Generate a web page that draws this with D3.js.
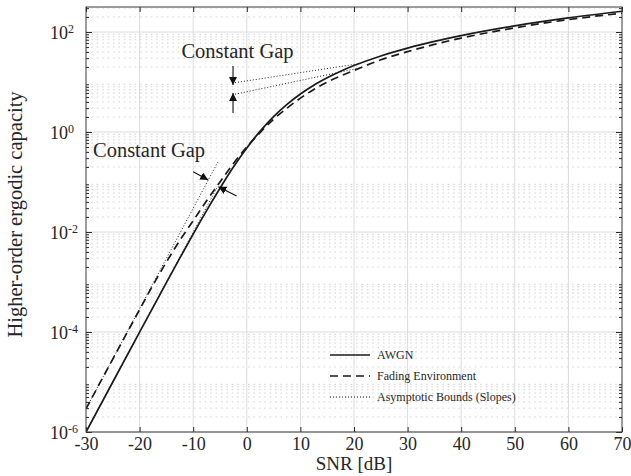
<!DOCTYPE html>
<html>
<head>
<meta charset="utf-8">
<script src="https://cdn.jsdelivr.net/npm/d3@7"></script>
<style>
  body { margin: 0; background: #fff; }
  svg { display: block; font-family: "Liberation Serif", "Times New Roman", serif; }
</style>
</head>
<body>
<svg id="chart" width="631" height="476"></svg>
<script>
// values
const snrDb = [-30, -25, -20, -17.5, -15, -12.5, -10, -7.5, -5, -2.5, 0, 2.5, 5, 7.5, 10, 12.5, 15, 17.5, 20, 25, 30, 35, 40, 50, 60, 70]
const awgn = [1.0e-6, 1.0e-5, 9.9e-5, 3.1e-4, 9.7e-4, 3.0e-3, 9.1e-3, 0.0268, 0.075, 0.199, 0.48, 1.04, 2.03, 3.57, 5.75, 8.6, 12.1, 16.4, 21.3, 33.2, 47.7, 64.9, 84.8, 132.5, 190.9, 259.8]
const fading = [2.9e-6, 2.88e-5, 2.8e-4, 8.7e-4, 2.5e-3, 6.8e-3, 0.0168, 0.042, 0.10, 0.235, 0.50, 0.98, 1.80, 3.0, 4.75, 7.1, 10.0, 13.2, 17.0, 27.8, 40.5, 56.5, 75.5, 121, 177, 238]

// asymptotic bounds (dotted)
const lowSnrDb = [-30, -5.4]
const awgnLow = [1.0e-6, 0.083]
const fadingLow = [2.9e-6, 0.25]
const awgnHighDb = [-2.2, 21]
const awgnHigh = [9.7, 23.3]
const fadingHighDb = [-2.2, 21.5]
const fadingHigh = [5.7, 19.5]

const xTicks = [-30, -20, -10, 0, 10, 20, 30, 40, 50, 60, 70]
const yExps = [-6, -4, -2, 0, 2]
const legendLabels = ["AWGN", "Fading Environment", "Asymptotic Bounds (Slopes)"]

const W = 631, H = 476
const m = {left: 86, right: 9, top: 7, bottom: 44}
const iw = W - m.left - m.right, ih = H - m.top - m.bottom
const ink = "#262626"

const svg = d3.select("#chart")
const g = svg.append("g").attr("transform", `translate(${m.left},${m.top})`)

const x = d3.scaleLinear().domain([-30, 70]).range([0, iw])
const y = d3.scaleLog().domain([1e-6, Math.pow(10, 2.5)]).range([ih, 0])

// minor values 2..9 per decade
let minors = []
for(let e=-6; e<=2; e++){
	for(let k=2; k<=9; k++){
		let v = k*Math.pow(10, e)
		if(v < y.domain()[1]) minors.push(v)
	}
}

// grid
g.append("g").selectAll("line").data(minors).join("line")
	.attr("x1", 0).attr("x2", iw)
	.attr("y1", d=>y(d)).attr("y2", d=>y(d))
	.attr("stroke", "#d4d4d4").attr("stroke-dasharray", "1.6,3.8")
g.append("g").selectAll("line").data(yExps).join("line")
	.attr("x1", 0).attr("x2", iw)
	.attr("y1", d=>y(Math.pow(10, d))).attr("y2", d=>y(Math.pow(10, d)))
	.attr("stroke", "#dcdcdc")
g.append("g").selectAll("line").data(xTicks.slice(1, -1)).join("line")
	.attr("x1", d=>x(d)).attr("x2", d=>x(d))
	.attr("y1", 0).attr("y2", ih)
	.attr("stroke", "#dcdcdc")

// curves
g.append("clipPath").attr("id", "clip")
	.append("rect").attr("width", iw).attr("height", ih)
const plot = g.append("g").attr("clip-path", "url(#clip)")

const line = d3.line()
	.x(d=>x(d[0])).y(d=>y(d[1]))
	.curve(d3.curveMonotoneX)
const pairs = (xs, ys) => xs.map((v, i)=>[v, ys[i]])

const dotted = [
	pairs(lowSnrDb, awgnLow), pairs(lowSnrDb, fadingLow),
	pairs(awgnHighDb, awgnHigh), pairs(fadingHighDb, fadingHigh)
]
dotted.forEach(d=>{
	plot.append("path").datum(d).attr("d", line)
		.attr("fill", "none").attr("stroke", "#222")
		.attr("stroke-width", 1).attr("stroke-dasharray", "1,2")
})
plot.append("path").datum(pairs(snrDb, fading)).attr("d", line)
	.attr("fill", "none").attr("stroke", "#1a1a1a")
	.attr("stroke-width", 1.7).attr("stroke-dasharray", "8,5")
plot.append("path").datum(pairs(snrDb, awgn)).attr("d", line)
	.attr("fill", "none").attr("stroke", "#1a1a1a")
	.attr("stroke-width", 1.7)

// axes
const styleAxis = sel => {
	sel.select(".domain").remove()
	sel.selectAll("line").attr("stroke", ink)
	sel.selectAll("text").attr("fill", ink).attr("font-size", 18)
		.attr("font-family", "Liberation Serif")
}
g.append("g").attr("transform", `translate(0,${ih})`)
	.call(d3.axisBottom(x).tickValues(xTicks).tickSize(-5).tickPadding(5).tickFormat(d=>String(d)))
	.call(styleAxis)
g.append("g")
	.call(d3.axisTop(x).tickValues(xTicks).tickSize(-5).tickFormat(""))
	.call(styleAxis)
const majorY = yExps.map(e=>Math.pow(10, e))
g.append("g").call(d3.axisLeft(y).tickValues(majorY).tickSize(-6).tickFormat("")).call(styleAxis)
g.append("g").call(d3.axisLeft(y).tickValues(minors).tickSize(-3).tickFormat("")).call(styleAxis)
g.append("g").attr("transform", `translate(${iw},0)`)
	.call(d3.axisRight(y).tickValues(majorY).tickSize(-6).tickFormat("")).call(styleAxis)
g.append("g").attr("transform", `translate(${iw},0)`)
	.call(d3.axisRight(y).tickValues(minors).tickSize(-3).tickFormat("")).call(styleAxis)

// y tick labels 10^n
const yl = g.append("g").selectAll("text").data(yExps).join("text")
	.attr("x", -36).attr("y", d=>y(Math.pow(10, d)) + 7)
	.attr("fill", ink).attr("font-size", 18)
yl.append("tspan").text("10")
yl.append("tspan").attr("font-size", 12).attr("dy", -6).text(d=>String(d))

g.append("rect").attr("width", iw).attr("height", ih)
	.attr("fill", "none").attr("stroke", "#3a3a3a").attr("stroke-width", 1)

// axis titles
g.append("text").attr("x", iw/2).attr("y", ih + 38)
	.attr("text-anchor", "middle").attr("font-size", 19).attr("fill", ink)
	.text("SNR [dB]")
g.append("text")
	.attr("transform", `translate(${-64},${ih/2 - 5}) rotate(-90)`)
	.attr("text-anchor", "middle").attr("font-size", 20.5).attr("fill", ink)
	.text("Higher-order ergodic capacity")

// annotations (data coordinates)
const notes = [
	{text: "Constant Gap", at: [-12.2, 30.2]},
	{text: "Constant Gap", at: [-28.7, 0.316]}
]
g.selectAll(".note").data(notes).join("text")
	.attr("x", d=>x(d.at[0])).attr("y", d=>y(d.at[1]))
	.attr("font-size", 20.5).attr("fill", ink)
	.text(d=>d.text)

const arrows = [
	{from: [-2.57, 20.9], to: [-2.57, 8.7]},
	{from: [-2.57, 2.4], to: [-2.57, 6.0]},
	{from: [-10.0, 0.161], to: [-7.2, 0.11]},
	{from: [-1.9, 0.0525], to: [-5.3, 0.0805]}
]
svg.append("defs").append("marker")
	.attr("id", "head").attr("viewBox", "0 0 10 10")
	.attr("refX", 10).attr("refY", 5)
	.attr("markerWidth", 8).attr("markerHeight", 8)
	.attr("markerUnits", "userSpaceOnUse")
	.attr("orient", "auto")
	.append("path").attr("d", "M0,0L10,5L0,10z").attr("fill", "#111")
g.selectAll(".arrow").data(arrows).join("line")
	.attr("x1", d=>x(d.from[0])).attr("y1", d=>y(d.from[1]))
	.attr("x2", d=>x(d.to[0])).attr("y2", d=>y(d.to[1]))
	.attr("stroke", "#111").attr("stroke-width", 1.1)
	.attr("marker-end", "url(#head)")

// legend
const lg = g.append("g").attr("transform", `translate(244,348)`)
const dashes = [null, "8,5", "1,2"]
legendLabels.forEach((t, i)=>{
	lg.append("line")
		.attr("x1", 0).attr("x2", 40)
		.attr("y1", i*21).attr("y2", i*21)
		.attr("stroke", "#1a1a1a")
		.attr("stroke-width", i==2 ? 1 : 1.7)
		.attr("stroke-dasharray", dashes[i])
	lg.append("text").attr("x", 47).attr("y", i*21 + 4)
		.attr("font-size", 12).attr("fill", ink).text(t)
})
</script>
</body>
</html>
